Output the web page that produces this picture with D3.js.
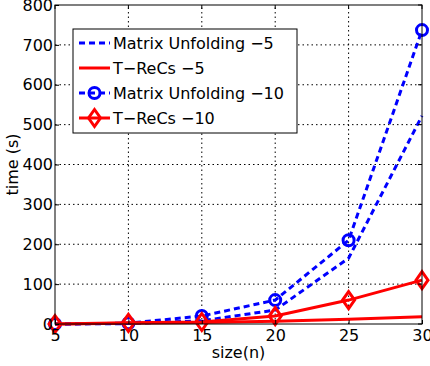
<!DOCTYPE html>
<html>
<head>
<meta charset="utf-8">
<script src="https://cdn.jsdelivr.net/npm/d3@7"></script>
<style>
  body { margin: 0; background: #fff; }
  svg { font-family: 'DejaVu Sans', sans-serif; }
  .grid line { stroke: #000; stroke-width: 1; stroke-dasharray: 1.5 3; }
</style>
</head>
<body>
<svg id="chart" width="430" height="366"></svg>
<script>
const sizes = [5, 10, 15, 20, 25, 30];
const matrixUnf5 = [0, 1, 8, 35, 165, 522];
const trecs5 = [0, 2, 4, 7, 12, 18];
const matrixUnf10 = [0, 2, 20, 60, 210, 737];
const trecs10 = [0, 3, 5, 20, 60, 110];

const xTicks = [5, 10, 15, 20, 25, 30];
const yTicks = [0, 100, 200, 300, 400, 500, 600, 700, 800];

const series = [
  { name: 'Matrix Unfolding \u22125', values: matrixUnf5, color: '#0000ff', dash: '6 4', marker: null },
  { name: 'T\u2212ReCs \u22125', values: trecs5, color: '#ff0000', dash: null, marker: null },
  { name: 'Matrix Unfolding \u221210', values: matrixUnf10, color: '#0000ff', dash: '6 4', marker: 'circle' },
  { name: 'T\u2212ReCs \u221210', values: trecs10, color: '#ff0000', dash: null, marker: 'diamond' },
];

const svg = d3.select('#chart');
const margin = { left: 55, right: 8, top: 5, bottom: 42 };
const width = 430;
const height = 366;
const fontSize = 16;

const x = d3.scaleLinear().domain([5, 30]).range([margin.left, width - margin.right]);
const y = d3.scaleLinear().domain([0, 800]).range([height - margin.bottom, margin.top]);

// dotted grid
const grid = svg.append('g').attr('class', 'grid');
grid.selectAll('.gx')
  .data(xTicks.slice(1, -1))
  .enter()
  .append('line')
  .attr('x1', (d) => x(d)).attr('x2', (d) => x(d))
  .attr('y1', y(0)).attr('y2', y(800));
grid.selectAll('.gy')
  .data(yTicks.slice(1, -1))
  .enter()
  .append('line')
  .attr('y1', (d) => y(d)).attr('y2', (d) => y(d))
  .attr('x1', x(5)).attr('x2', x(30));

const line = d3.line().x((d, i) => x(sizes[i])).y((d) => y(d));

const drawMarker = (g, type, color) => {
  if (type === 'circle') {
    g.append('circle').attr('r', 5.5).attr('fill', 'none').attr('stroke', color).attr('stroke-width', 3);
  } else if (type === 'diamond') {
    g.append('path').attr('d', 'M0,-8.5L6,0L0,8.5L-6,0Z').attr('fill', 'none').attr('stroke', color).attr('stroke-width', 3);
  }
};

const plot = svg.append('g');
series.forEach((s) => {
  plot.append('path')
    .datum(s.values)
    .attr('d', line)
    .attr('fill', 'none')
    .attr('stroke', s.color)
    .attr('stroke-width', 3)
    .attr('stroke-dasharray', s.dash);
  if (s.marker) {
    s.values.forEach((v, i) => {
      const g = plot.append('g').attr('transform', `translate(${x(sizes[i])},${y(v)})`);
      drawMarker(g, s.marker, s.color);
    });
  }
});

// axes box
svg.append('rect')
  .attr('x', x(5)).attr('y', y(800))
  .attr('width', x(30) - x(5)).attr('height', y(0) - y(800))
  .attr('fill', 'none').attr('stroke', '#000').attr('stroke-width', 1);

const xAxis = svg.append('g')
  .attr('transform', `translate(0,${y(0)})`)
  .call(d3.axisBottom(x).tickValues(xTicks).tickSizeInner(-4).tickSizeOuter(0).tickPadding(6));
const yAxis = svg.append('g')
  .attr('transform', `translate(${x(5)},0)`)
  .call(d3.axisLeft(y).tickValues(yTicks).tickSizeInner(-4).tickSizeOuter(0).tickPadding(2));
[xAxis, yAxis].forEach((a) => {
  a.select('.domain').remove();
  a.selectAll('text').attr('font-size', fontSize).attr('font-family', 'DejaVu Sans, sans-serif').attr('fill', '#000');
});
// right/top ticks
svg.append('g').selectAll('line').data(xTicks).enter().append('line')
  .attr('x1', (d) => x(d)).attr('x2', (d) => x(d))
  .attr('y1', y(800)).attr('y2', y(800) + 4).attr('stroke', '#000');
svg.append('g').selectAll('line').data(yTicks).enter().append('line')
  .attr('y1', (d) => y(d)).attr('y2', (d) => y(d))
  .attr('x1', x(30)).attr('x2', x(30) - 4).attr('stroke', '#000');

svg.append('text')
  .attr('x', (x(5) + x(30)) / 2).attr('y', 358)
  .attr('text-anchor', 'middle').attr('font-size', fontSize)
  .text('size(n)');
svg.append('text')
  .attr('transform', `translate(18,${(y(0) + y(800)) / 2}) rotate(-90)`)
  .attr('text-anchor', 'middle').attr('font-size', fontSize)
  .text('time (s)');

// legend
const legend = svg.append('g').attr('transform', 'translate(73,29)');
legend.append('rect').attr('width', 224).attr('height', 104)
  .attr('fill', '#fff').attr('stroke', '#000').attr('stroke-width', 1);
series.forEach((s, i) => {
  const ly = 14 + i * 25;
  const row = legend.append('g').attr('transform', `translate(0,${ly})`);
  row.append('line').attr('x1', 6).attr('x2', 37).attr('y1', 0).attr('y2', 0)
    .attr('stroke', s.color).attr('stroke-width', 3).attr('stroke-dasharray', s.dash);
  if (s.marker) {
    const g = row.append('g').attr('transform', 'translate(21.5,0)');
    drawMarker(g, s.marker, s.color);
  }
  row.append('text').attr('x', 40).attr('y', 6).attr('font-size', fontSize).text(s.name);
});
</script>
</body>
</html>
